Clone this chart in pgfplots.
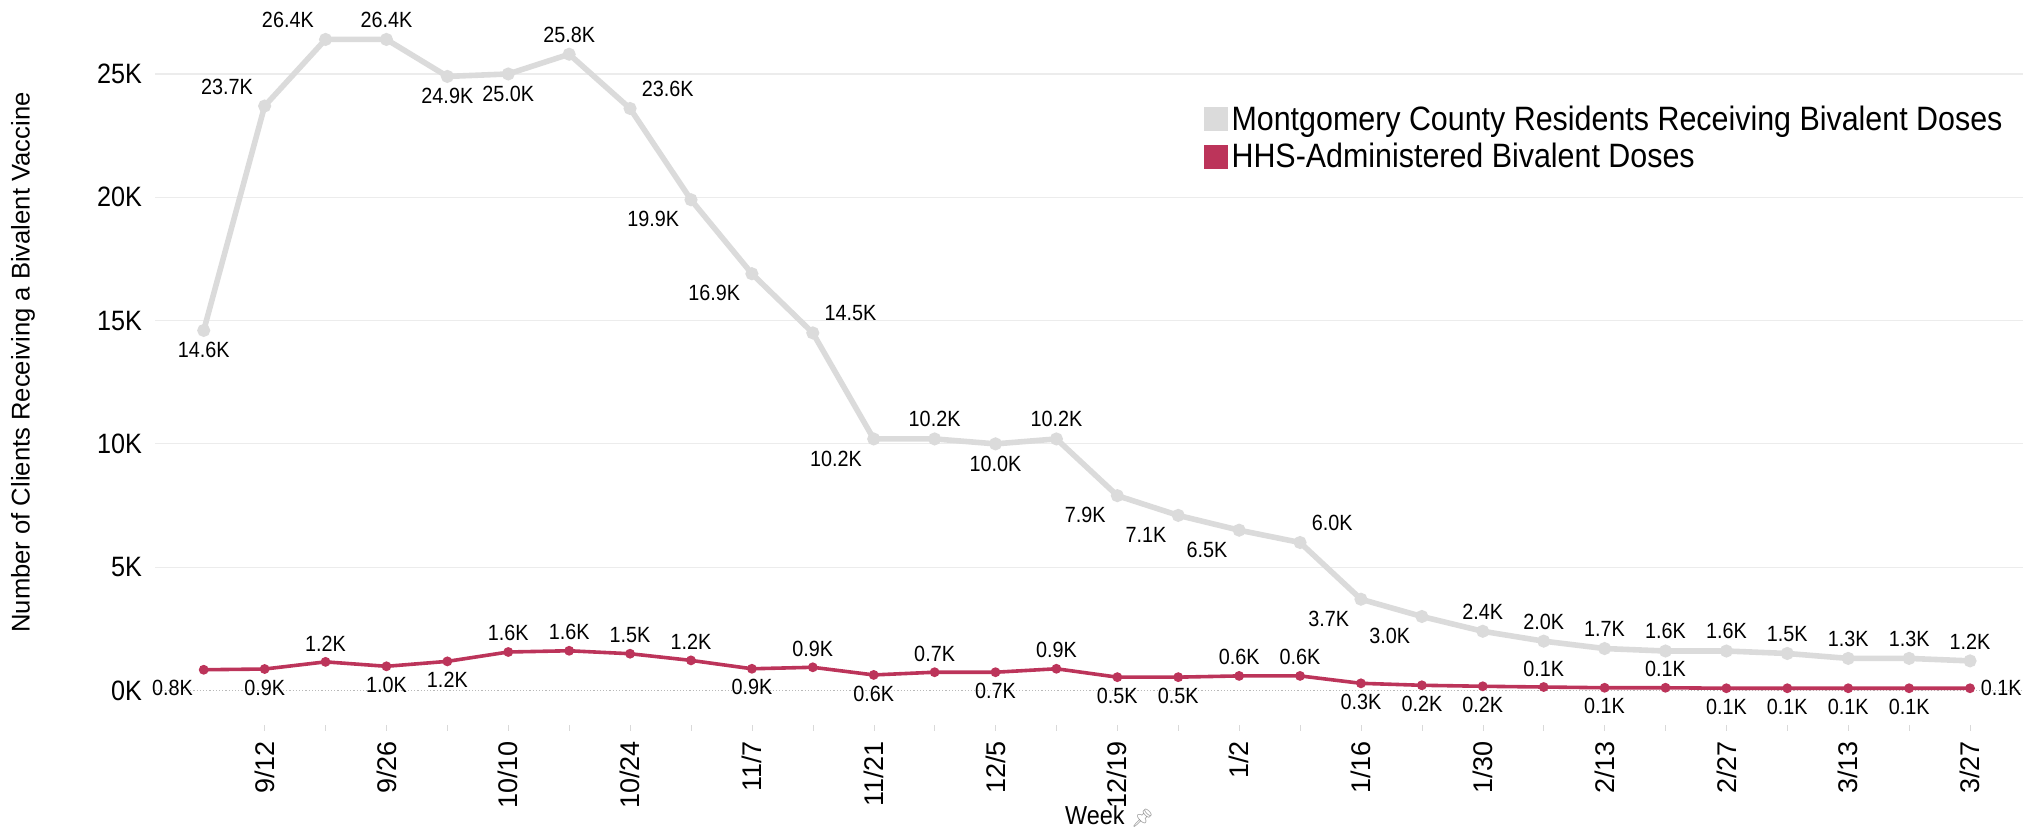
\documentclass[border=0pt]{standalone}
\usepackage{fontspec}
\setmainfont{Liberation Sans}
\newfontfamily\narrow{Liberation Sans}[FakeStretch=0.9]
\newfontfamily\emo{Noto Emoji}
\usepackage{pgfplots}
\usepackage{pgfplotstable}
\pgfplotsset{compat=1.18}

\definecolor{resgray}{RGB}{219,219,219}
\definecolor{hhsred}{RGB}{188,52,90}
\definecolor{gridgray}{RGB}{236,236,236}

% weekly counts, in thousands; anc = where the value label sits
\pgfplotstableread[col sep=comma]{
x,y,anc
0,14.6,north
1,23.7,south east
2,26.4,south east
3,26.4,south
4,24.9,north
5,25.0,north
6,25.8,south
7,23.6,south west
8,19.9,north east
9,16.9,north east
10,14.5,south west
11,10.2,north east
12,10.2,south
13,10.0,north
14,10.2,south
15,7.9,north east
16,7.1,north east
17,6.5,north east
18,6.0,south west
19,3.7,north east
20,3.0,north east
21,2.4,south
22,2.0,south
23,1.7,south
24,1.6,south
25,1.6,south
26,1.5,south
27,1.3,south
28,1.3,south
29,1.2,south
}\resdata

\pgfplotstableread[col sep=comma]{
x,y,anc
0,0.84,north east
1,0.87,north
2,1.16,south
3,0.98,north
4,1.18,north
5,1.56,south
6,1.61,south
7,1.49,south
8,1.22,south
9,0.88,north
10,0.94,south
11,0.63,north
12,0.74,south
13,0.74,north
14,0.88,south
15,0.54,north
16,0.54,north
17,0.59,south
18,0.59,south
19,0.29,north
20,0.21,north
21,0.17,north
22,0.14,south
23,0.11,north
24,0.11,south
25,0.09,north
26,0.09,north
27,0.09,north
28,0.09,north
29,0.09,west
}\hhsdata

\pgfplotsset{
  vlabels/.style={
    point meta=explicit symbolic,
    nodes near coords={\pgfmathprintnumber[fixed, precision=1, fixed zerofill]{\pgfkeysvalueof{/data point/y}}K},
    every node near coord/.append style={anchor=\pgfplotspointmeta, inner sep=4.5pt,
        font=\narrow\fontsize{11}{12}\selectfont, text=black},
  },
}

\begin{document}
\begin{tikzpicture}
\begin{axis}[
    scale only axis,
    width=934pt, height=362.5pt,
    xmin=-0.8, xmax=29.87,
    ymin=-1.4, ymax=28,
    clip=false,
    axis line style={draw=none},
    /pgf/number format/assume math mode=true,
    xtick={1,3,...,29},
    xticklabels={9/12,9/26,10/10,10/24,11/7,11/21,12/5,12/19,1/2,1/16,1/30,2/13,2/27,3/13,3/27},
    xticklabel style={rotate=90, anchor=east, inner sep=1pt, font=\fontsize{13.5}{15}\selectfont},
    xticklabel shift=4pt,
    minor x tick num=1,
    tick align=outside,
    major tick length=3pt, minor tick length=3pt,
    xtick style={draw=gray!30},
    ytick={5,10,15,20,25},
    yticklabel={\pgfmathprintnumber{\tick}K},
    yticklabel style={font=\narrow\fontsize{14}{16}\selectfont},
    ytick style={draw=none},
    extra y ticks={0},
    extra y tick labels={0K},
    extra y tick style={grid style={densely dotted, gray!55, line width=0.6pt}},
    ymajorgrids,
    grid style={gridgray, line width=0.6pt},
    ylabel={Number of Clients Receiving a Bivalent Vaccine},
    ylabel style={at={(axis description cs:-0.0707,0.5)}, anchor=center, font=\fontsize{12.8}{14}\selectfont},
    xlabel={Week {\emo\color{gray!80}\fontsize{9}{10}\selectfont 📌}},
    xlabel style={at={(axis description cs:0.511,0)}, anchor=base, yshift=-50pt, font=\narrow\fontsize{13}{14}\selectfont},
    legend style={at={(0.558,0.866)}, anchor=north west, draw=none, fill=none,
        font=\narrow\fontsize{16.9}{18}\selectfont, row sep=1pt,
        nodes={inner sep=2pt}},
    legend cell align=left,
]
\addlegendimage{legend image code/.code={\fill[resgray] (0pt,-5.8pt) rectangle (11.5pt,5.8pt);}}
\addlegendentry{Montgomery County Residents Receiving Bivalent Doses}
\addlegendimage{legend image code/.code={\fill[hhsred] (0pt,-5.8pt) rectangle (11.5pt,5.8pt);}}
\addlegendentry{HHS-Administered Bivalent Doses}
\addplot[resgray, line width=2.8pt, mark=*, mark size=1.8pt, vlabels, forget plot]
    table[x=x, y=y, meta=anc] {\resdata};
\addplot[hhsred, line width=1.8pt, mark=*, mark size=1.5pt, vlabels, forget plot]
    table[x=x, y=y, meta=anc] {\hhsdata};
\end{axis}
\pgfresetboundingbox
\path[use as bounding box] (-77.5pt,-51.5pt) rectangle (934pt,362.5pt);
\end{tikzpicture}
\end{document}
